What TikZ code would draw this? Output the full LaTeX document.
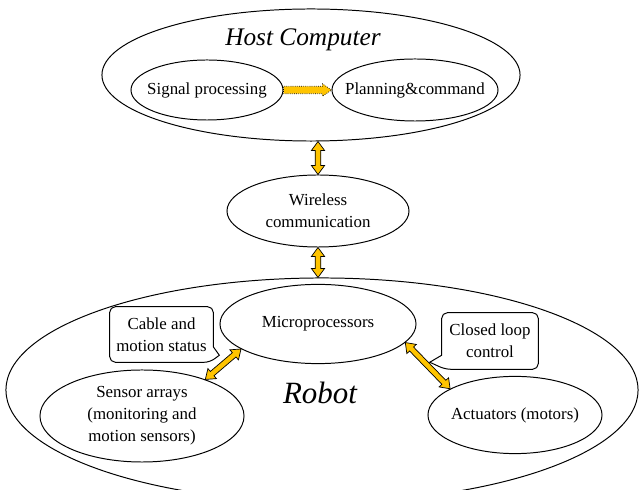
\documentclass[tikz,border=0pt]{standalone}
\usepackage{fontspec}
\setmainfont{Liberation Serif}
\usepackage{tikz}
\usetikzlibrary{shapes,calc,positioning}
\definecolor{arrowgold}{RGB}{255,196,0}

% fat double arrow between two points
\newcommand{\fatboth}[2]{%
  \coordinate (fa) at ($(#1)!6.4pt!(#2)$);
  \coordinate (fb) at ($(#2)!6.4pt!(#1)$);
  \draw[fat] (#1) -- ($(fa)!4.7pt!90:(#2)$) -- ($(fa)!2pt!90:(#2)$)
    -- ($(fb)!2pt!-90:(#1)$) -- ($(fb)!4.7pt!-90:(#1)$) -- (#2)
    -- ($(fb)!4.7pt!90:(#1)$) -- ($(fb)!2pt!90:(#1)$)
    -- ($(fa)!2pt!-90:(#2)$) -- ($(fa)!4.7pt!-90:(#2)$) -- cycle;}
% fat single arrow, tip at #2
\newcommand{\fatone}[2]{%
  \coordinate (fb) at ($(#2)!6.4pt!(#1)$);
  \draw[fat, densely dotted] ($(#1)!2.6pt!-90:(#2)$) -- ($(fb)!2.6pt!90:(#1)$)
    -- ($(fb)!4.4pt!90:(#1)$) -- (#2) -- ($(fb)!4.4pt!-90:(#1)$)
    -- ($(fb)!2.6pt!-90:(#1)$) -- ($(#1)!2.6pt!90:(#2)$) -- cycle;}

\begin{document}
\begin{tikzpicture}[x=0.025cm, y=-0.025cm,
  blob/.style={ellipse, draw, line width=0.7pt, inner sep=0pt, align=center,
               font=\fontsize{12}{15.5}\selectfont},
  hosttitle/.style={font=\fontsize{18}{20}\selectfont\itshape},
  robottitle/.style={font=\fontsize{22}{24}\selectfont\itshape},
  bubble/.style={inner sep=0pt, align=center, font=\fontsize{12}{15.5}\selectfont},
  note/.style={rounded corners=4pt, line width=0.7pt},
  fat/.style={draw, fill=arrowgold, line width=0.5pt, line join=miter}
]
\useasboundingbox (0,0) rectangle (639,490);
\clip (0,0) rectangle (639,490);

\node[blob, minimum width=10.45cm, minimum height=3.3cm] (host) at (311,75) {};
\node[blob, minimum width=15.8cm, minimum height=5.6cm] (robot) at (322,390) {};
\node[hosttitle] (hostlbl) at (303,40) {Host Computer};
\node[robottitle] (robotlbl) at (320,393) {Robot};

\node[blob, minimum width=3.8cm, minimum height=1.5cm, inner xsep=-4.5pt] (sig) at (207,90) {Signal processing};
\node[blob, minimum width=4.15cm, minimum height=1.55cm, inner xsep=-8pt] (plan) at (415,90) {Planning\&command};
\node[blob, minimum width=4.55cm, minimum height=1.8cm] (wless) at (318,211) {Wireless\\communication};
\node[blob, minimum width=4.9cm, minimum height=1.98cm] (micro) at (318,324) {Microprocessors};
\node[blob, minimum width=5.1cm, minimum height=2.3cm] (sensor) at (142,416) {Sensor arrays\\(monitoring and\\motion sensors)};
\node[blob, minimum width=4.35cm, minimum height=1.93cm, inner xsep=-2pt] (act) at (515,415) {Actuators (motors)};

% callouts
\node[bubble, minimum width=2.575cm, minimum height=1.375cm] (cable) at (161.5,334.5) {Cable and\\motion status};
\node[bubble, minimum width=2.4cm, minimum height=1.4cm] (loop) at (490,341) {Closed loop\\control};
\draw[note] ([yshift=11pt]cable.south east) -- (cable.north east) -- (cable.north west)
  -- (cable.south west) -- ([xshift=-2.5pt]cable.south east) [sharp corners]
  -- ([xshift=4.3pt,yshift=5pt]cable.south east) -- cycle;
\draw[note] ([yshift=10pt]loop.south west) -- (loop.north west) -- (loop.north east)
  -- (loop.south east) -- ([xshift=2.5pt]loop.south west) [sharp corners]
  -- ([xshift=-8.5pt,yshift=5pt]loop.south west) -- cycle;

% arrows
\fatone{sig.east}{plan.west}
\coordinate (hs) at (wless.north |- host.south);
\fatboth{hs}{wless.north}
\coordinate (rn) at (wless.south |- robot.north);
\fatboth{wless.south}{rn}
\fatboth{micro.198}{sensor.30}
\fatboth{micro.348}{act.158}
\end{tikzpicture}
\end{document}
